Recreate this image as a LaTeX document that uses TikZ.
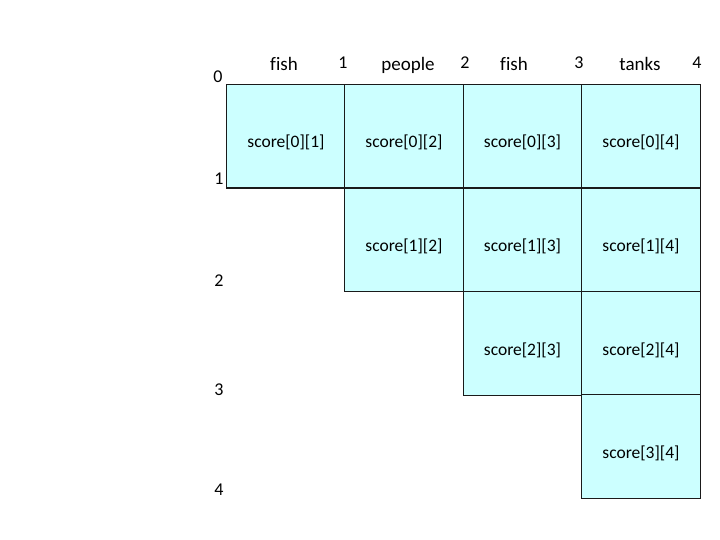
\documentclass[tikz,border=0pt]{standalone}
\usepackage{fontspec}
\setmainfont[Ligatures=CommonOff]{Carlito}
\usetikzlibrary{positioning}
\definecolor{ccell}{HTML}{CCFFFF}
\definecolor{cline}{HTML}{1A1A1A}
\tikzset{
  every picture/.style={x=1pt, y=-1pt, line width=1.2pt},
  cell/.style={draw=cline, fill=ccell, minimum width=118.3pt, minimum height=103.4pt,
    inner sep=0pt, font=\fontsize{17.5}{20}\selectfont, text height=23pt, text depth=0pt},
  head/.style={anchor=base, inner sep=0pt, font=\fontsize{19}{22}\selectfont},
  idx/.style={anchor=base, inner sep=0pt, font=\fontsize{18}{21}\selectfont},
}
\begin{document}
\begin{tikzpicture}
  \useasboundingbox[fill=white] (0,0) rectangle (720,540);
  % row 0
  \node[cell] (s01) at (286,136.3) {score[0][1]};
  \node[cell] (s02) at (404,136.3) {score[0][2]};
  \node[cell] (s03) at (522.5,136.3) {score[0][3]};
  \node[cell] (s04) at (641,136.3) {score[0][4]};
  % row 1
  \node[cell] (s12) at (404,240) {score[1][2]};
  \node[cell] (s13) at (522.5,240) {score[1][3]};
  \node[cell] (s14) at (641,240) {score[1][4]};
  % row 2
  \node[cell] (s23) at (522.5,343.5) {score[2][3]};
  \node[cell] (s24) at (641,343.5) {score[2][4]};
  % row 3
  \node[cell] (s34) at (641,446.5) {score[3][4]};
  % column words
  \node[head] (w1) at (284,71) {fish};
  \node[head] (w2) at (408,71) {people};
  \node[head] (w3) at (514,71) {fish};
  \node[head] (w4) at (640,71) {tanks};
  % column indices
  \node[idx] (c0) at (218,83) {0};
  \node[idx] (c1) at (343,69) {1};
  \node[idx] (c2) at (465,69) {2};
  \node[idx] (c3) at (579,69) {3};
  \node[idx] (c4) at (697,69) {4};
  % row indices
  \node[idx] (r1) at (219,185) {1};
  \node[idx] (r2) at (219,286) {2};
  \node[idx] (r3) at (219,395) {3};
  \node[idx] (r4) at (219,495) {4};
\end{tikzpicture}
\end{document}
